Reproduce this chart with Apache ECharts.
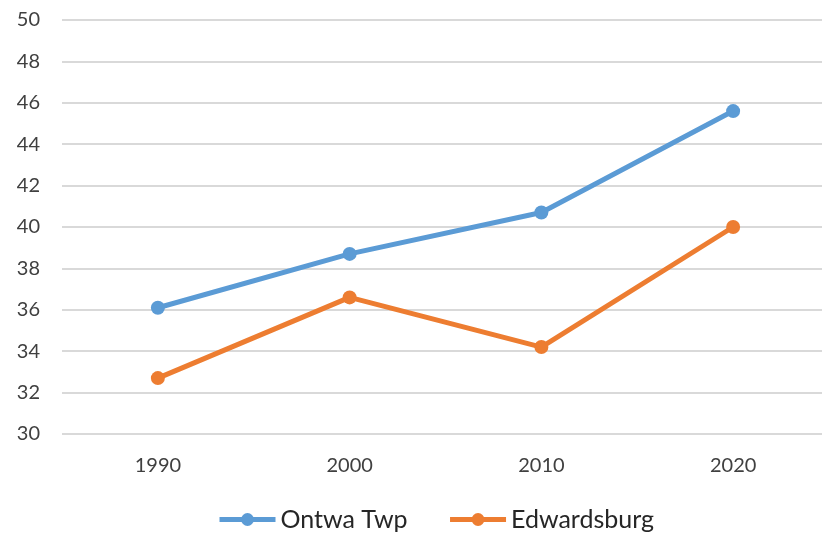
<!DOCTYPE html>
<html>
<head>
<meta charset="utf-8">
<script src="https://cdn.jsdelivr.net/npm/echarts@6/dist/echarts.min.js"></script>
<style>
  html, body { margin: 0; padding: 0; background: #fff; }
  #main { width: 822px; height: 533px; }
</style>
</head>
<body>
<div id="main"></div>
<script>
// data
const years = ['1990', '2000', '2010', '2020'];
const ontwa = [36.1, 38.7, 40.7, 45.6];
const edwardsburg = [32.7, 36.6, 34.2, 40.0];
const yMin = 30, yMax = 50, yStep = 2;

const chart = echarts.init(document.getElementById('main'));
const font = 'Lato, "DejaVu Sans", sans-serif';

chart.setOption({
  animation: false,
  textStyle: { fontFamily: font },
  grid: { left: 62, top: 20, width: 767, height: 414, containLabel: false, outerBoundsMode: 'none' },
  legend: {
    top: 502,
    left: 212,
    itemWidth: 56,
    itemHeight: 16,
    itemGap: 40,
    lineStyle: { width: 5 },
    textStyle: { fontSize: 25, color: '#262626', fontFamily: font },
    data: ['Ontwa Twp', 'Edwardsburg']
  },
  xAxis: {
    type: 'category',
    data: years,
    boundaryGap: true,
    axisLine: { show: false },
    axisTick: { show: false },
    axisLabel: { fontSize: 20, color: '#404040', margin: 22 }
  },
  yAxis: {
    type: 'value',
    min: yMin,
    max: yMax,
    interval: yStep,
    axisLine: { show: false },
    axisTick: { show: false },
    axisLabel: { fontSize: 20, color: '#404040', margin: 22 },
    splitLine: { lineStyle: { color: '#d9d9d9', width: 2 } }
  },
  series: [
    {
      name: 'Ontwa Twp',
      type: 'line',
      data: ontwa,
      color: '#5B9BD5',
      symbol: 'circle',
      symbolSize: 14,
      lineStyle: { width: 5 }
    },
    {
      name: 'Edwardsburg',
      type: 'line',
      data: edwardsburg,
      color: '#ED7D31',
      symbol: 'circle',
      symbolSize: 14,
      lineStyle: { width: 5 }
    }
  ]
});
</script>
</body>
</html>
